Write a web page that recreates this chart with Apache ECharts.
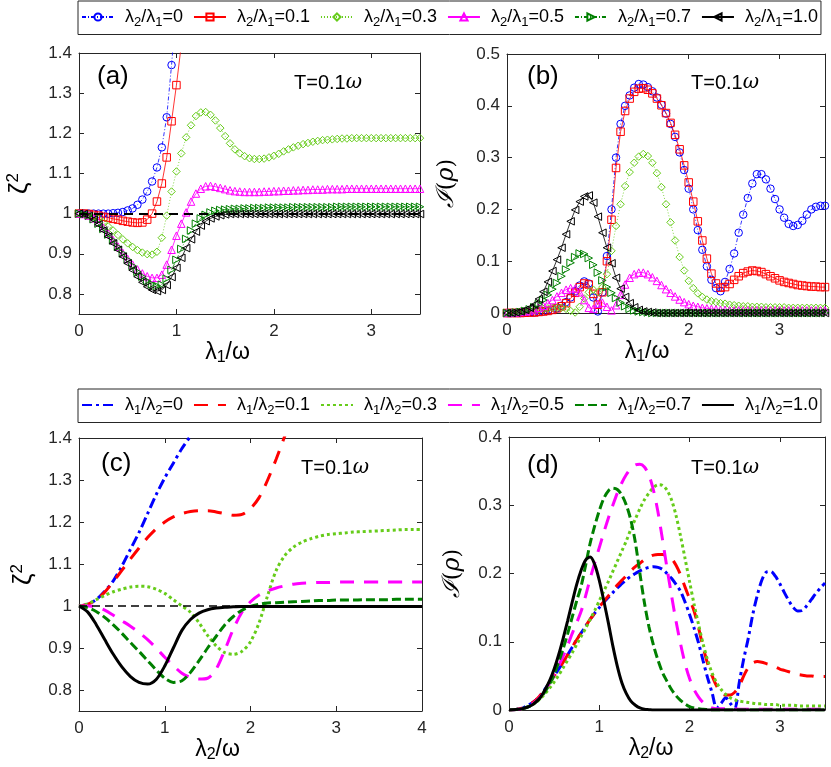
<!DOCTYPE html>
<html>
<head>
<meta charset="utf-8">
<script src="https://cdn.jsdelivr.net/npm/echarts@6/dist/echarts.min.js"></script>
<style>
body { margin: 0; background: #fff; }
#chart { width: 831px; height: 767px; }
</style>
</head>
<body>
<div id="chart"></div>
<script>
// x grids
var xs05 = [0,0.05,0.1,0.15,0.2,0.25,0.3,0.35,0.4,0.45,
	0.5,0.55,0.6,0.65,0.7,0.75,0.8,0.85,0.9,0.95,
	1,1.05,1.1,1.15,1.2,1.25,1.3,1.35,1.4,1.45,
	1.5,1.55,1.6,1.65,1.7,1.75,1.8,1.85,1.9,1.95,
	2,2.05,2.1,2.15,2.2,2.25,2.3,2.35,2.4,2.45,
	2.5,2.55,2.6,2.65,2.7,2.75,2.8,2.85,2.9,2.95,
	3,3.05,3.1,3.15,3.2,3.25,3.3,3.35,3.4,3.45,
	3.5];
var xs1 = [0,0.1,0.2,0.3,0.4,0.5,0.6,0.7,0.8,0.9,
	1,1.1,1.2,1.3,1.4,1.5,1.6,1.7,1.8,1.9,
	2,2.1,2.2,2.3,2.4,2.5,2.6,2.7,2.8,2.9,
	3,3.1,3.2,3.3,3.4,3.5,3.6,3.7,3.8,3.9,
	4];

// legend ratios
var ratios = ['0','0.1','0.3','0.5','0.7','1.0'];

// tick labels
var ticksX35 = [0,1,2,3];
var ticksX4 = [0,1,2,3,4];
var ticksZeta = [0.8,0.9,1,1.1,1.2,1.3,1.4];
var ticksB = [0,0.1,0.2,0.3,0.4,0.5];
var ticksD = [0,0.1,0.2,0.3,0.4];

// (a) zeta^2 vs lambda1
var aBlue = [1,1,1,1,1,1,1,1.001,1.002,1.004,
	1.008,1.013,1.022,1.035,1.055,1.08,1.115,1.165,1.24,1.37,
	1.52];
var aRed = [1,1,0.999,0.997,0.995,0.992,0.99,0.987,0.985,0.982,
	0.98,0.978,0.977,0.978,0.985,1,1.03,1.075,1.14,1.23,
	1.32,1.42];
var aGreen = [1,0.999,0.997,0.993,0.987,0.978,0.968,0.958,0.947,0.936,
	0.926,0.917,0.909,0.903,0.899,0.898,0.905,0.94,0.995,1.055,
	1.105,1.15,1.19,1.22,1.243,1.252,1.253,1.246,1.232,1.213,
	1.193,1.175,1.16,1.15,1.143,1.138,1.136,1.136,1.137,1.14,
	1.144,1.149,1.155,1.16,1.165,1.169,1.173,1.176,1.179,1.181,
	1.183,1.184,1.185,1.186,1.187,1.187,1.188,1.188,1.188,1.188,
	1.188,1.188,1.188,1.188,1.188,1.188,1.188,1.188,1.188,1.188,
	1.188];
var aMagenta = [1,0.999,0.995,0.988,0.978,0.965,0.95,0.934,0.918,0.902,
	0.887,0.873,0.861,0.851,0.844,0.84,0.84,0.848,0.873,0.91,
	0.945,0.975,1.003,1.03,1.05,1.062,1.068,1.069,1.067,1.064,
	1.061,1.058,1.056,1.055,1.054,1.054,1.054,1.054,1.055,1.055,
	1.056,1.056,1.057,1.057,1.058,1.058,1.059,1.059,1.06,1.06,
	1.06,1.061,1.061,1.061,1.061,1.062,1.062,1.062,1.062,1.062,
	1.062,1.062,1.062,1.062,1.062,1.062,1.062,1.062,1.062,1.062,
	1.062];
var aDkGreen = [1,0.999,0.995,0.986,0.975,0.962,0.948,0.933,0.917,0.901,
	0.885,0.87,0.855,0.843,0.832,0.824,0.82,0.823,0.838,0.86,
	0.885,0.912,0.937,0.958,0.975,0.988,0.997,1.003,1.007,1.009,
	1.01,1.011,1.012,1.012,1.013,1.013,1.014,1.014,1.014,1.015,
	1.015,1.015,1.015,1.015,1.016,1.016,1.016,1.016,1.016,1.016,
	1.016,1.016,1.016,1.017,1.017,1.017,1.017,1.017,1.017,1.017,
	1.017,1.017,1.017,1.017,1.017,1.017,1.017,1.017,1.017,1.017,
	1.017];
var aBlack = [1,0.999,0.994,0.985,0.973,0.958,0.943,0.926,0.91,0.893,
	0.876,0.859,0.843,0.829,0.818,0.81,0.807,0.81,0.822,0.842,
	0.865,0.89,0.914,0.936,0.955,0.97,0.981,0.988,0.993,0.996,
	0.998,0.999,0.999,0.999,0.999,0.999,0.999,0.999,0.999,0.999,
	0.999,0.999,0.999,0.999,0.999,0.999,0.999,0.999,0.999,0.999,
	0.999,0.999,0.999,0.999,0.999,0.999,0.999,0.999,0.999,0.999,
	0.999,0.999,0.999,0.999,0.999,0.999,0.999,0.999,0.999,0.999,
	0.999];

// (b) I(rho) vs lambda1
var bBlue = [0,0,0,0,0.0005,0.001,0.001,0.002,0.003,0.004,
	0.006,0.009,0.014,0.021,0.03,0.042,0.053,0.061,0.057,0.03,
	0.003,0.04,0.11,0.2,0.3,0.365,0.4,0.42,0.435,0.442,
	0.441,0.436,0.428,0.416,0.402,0.385,0.365,0.34,0.31,0.276,
	0.24,0.2,0.16,0.122,0.09,0.064,0.048,0.042,0.06,0.085,
	0.115,0.155,0.19,0.222,0.25,0.268,0.268,0.258,0.24,0.22,
	0.2,0.184,0.172,0.168,0.17,0.178,0.19,0.2,0.205,0.207,
	0.207];
var bRed = [0,0,0,0,0.0005,0.001,0.001,0.002,0.003,0.004,
	0.006,0.009,0.013,0.019,0.028,0.039,0.05,0.057,0.055,0.037,
	0.016,0.04,0.1,0.18,0.28,0.35,0.39,0.414,0.427,0.433,
	0.434,0.431,0.424,0.414,0.401,0.386,0.367,0.344,0.316,0.285,
	0.252,0.215,0.177,0.14,0.105,0.076,0.057,0.049,0.05,0.056,
	0.064,0.071,0.077,0.08,0.082,0.081,0.079,0.075,0.071,0.067,
	0.063,0.06,0.058,0.056,0.054,0.053,0.052,0.051,0.051,0.05,
	0.05];
var bGreen = [0,0.001,0.002,0.003,0.004,0.005,0.006,0.007,0.008,0.009,
	0.01,0.01,0.01,0.008,0.004,0.001,0.012,0.028,0.04,0.045,
	0.04,0.05,0.075,0.12,0.168,0.21,0.245,0.272,0.29,0.302,
	0.307,0.303,0.29,0.27,0.243,0.21,0.175,0.14,0.108,0.082,
	0.062,0.048,0.038,0.031,0.026,0.023,0.021,0.019,0.018,0.016,
	0.015,0.014,0.013,0.013,0.012,0.012,0.012,0.011,0.011,0.011,
	0.011,0.011,0.01,0.01,0.01,0.01,0.01,0.01,0.01,0.01,
	0.01];
var bMagenta = [0,0.0005,0.001,0.002,0.003,0.005,0.007,0.01,0.014,0.019,
	0.025,0.032,0.039,0.045,0.048,0.047,0.04,0.025,0.01,0.008,
	0.018,0.02,0.012,0.005,0.015,0.035,0.055,0.068,0.075,0.078,
	0.078,0.075,0.069,0.062,0.054,0.046,0.039,0.032,0.026,0.021,
	0.017,0.014,0.012,0.01,0.009,0.008,0.007,0.006,0.006,0.005,
	0.005,0.005,0.005,0.005,0.005,0.005,0.005,0.005,0.005,0.005,
	0.005,0.005,0.005,0.005,0.005,0.005,0.005,0.005,0.005,0.005,
	0.005];
var bDkGreen = [0,0,0.001,0.002,0.004,0.007,0.011,0.017,0.025,0.035,
	0.046,0.058,0.071,0.084,0.097,0.108,0.115,0.114,0.106,0.093,
	0.078,0.063,0.05,0.039,0.029,0.02,0.013,0.008,0.005,0.003,
	0.002,0.001,0,0,0,0,0,0,0,0,
	0,0,0,0,0,0,0,0,0,0,
	0,0,0,0,0,0,0,0,0,0,
	0,0,0,0,0,0,0,0,0,0,
	0];
var bBlack = [0,0,0.001,0.003,0.006,0.01,0.016,0.027,0.041,0.06,
	0.081,0.103,0.126,0.152,0.177,0.199,0.215,0.225,0.227,0.213,
	0.186,0.155,0.126,0.096,0.068,0.047,0.031,0.019,0.011,0.006,
	0.003,0.002,0.001,0,0,0,0,0,0,0,
	0,0,0,0,0,0,0,0,0,0,
	0,0,0,0,0,0,0,0,0,0,
	0,0,0,0,0,0,0,0,0,0,
	0];

// (c) zeta^2 vs lambda2
var cBlue = [1,1.004,1.015,1.035,1.06,1.095,1.135,1.175,1.22,1.265,
	1.305,1.34,1.375,1.405,1.44];
var cRed = [1,1.004,1.015,1.033,1.058,1.085,1.112,1.138,1.163,1.184,
	1.2,1.212,1.22,1.225,1.227,1.227,1.224,1.22,1.216,1.218,
	1.232,1.258,1.3,1.35,1.405,1.46];
var cGreen = [1,1.005,1.015,1.025,1.034,1.04,1.045,1.047,1.046,1.04,
	1.03,1.015,1,0.985,0.96,0.93,0.905,0.889,0.885,0.892,
	0.915,0.96,1.025,1.085,1.12,1.14,1.152,1.16,1.166,1.17,
	1.172,1.174,1.176,1.177,1.178,1.179,1.18,1.181,1.182,1.182,
	1.182];
var cMagenta = [1,1,0.998,0.99,0.978,0.965,0.952,0.937,0.92,0.9,
	0.878,0.858,0.84,0.83,0.826,0.828,0.85,0.895,0.945,0.985,
	1.01,1.026,1.036,1.043,1.048,1.052,1.054,1.055,1.056,1.056,
	1.057,1.057,1.057,1.057,1.057,1.057,1.057,1.057,1.057,1.057,
	1.057];
var cDkGreen = [1,0.996,0.987,0.973,0.955,0.935,0.913,0.892,0.87,0.848,
	0.828,0.818,0.822,0.842,0.87,0.9,0.928,0.955,0.975,0.99,
	0.999,1.004,1.007,1.008,1.009,1.01,1.011,1.012,1.013,1.013,
	1.014,1.014,1.014,1.015,1.015,1.015,1.015,1.016,1.016,1.016,
	1.016];
var cBlack = [1,0.986,0.956,0.92,0.885,0.855,0.832,0.818,0.814,0.825,
	0.857,0.9,0.942,0.968,0.983,0.991,0.995,0.997,0.998,0.999,
	0.999,0.999,0.999,0.999,0.999,0.999,0.999,0.999,0.999,0.999,
	0.999,0.999,0.999,0.999,0.999,0.999,0.999,0.999,0.999,0.999,
	0.999];

// (d) I(rho) vs lambda2
var dBlue = [0,0.0003,0.001,0.003,0.006,0.01,0.015,0.022,0.031,0.04,
	0.05,0.06,0.07,0.081,0.092,0.103,0.113,0.123,0.133,0.142,
	0.15,0.158,0.165,0.172,0.179,0.185,0.191,0.196,0.2,0.204,
	0.207,0.209,0.21,0.209,0.206,0.2,0.193,0.184,0.174,0.158,
	0.14,0.12,0.098,0.072,0.047,0.025,0.003,0.01,0.018,0.01,
	0.002,0.04,0.075,0.105,0.14,0.168,0.19,0.202,0.203,0.196,
	0.185,0.172,0.16,0.15,0.145,0.146,0.153,0.162,0.171,0.179,
	0.186];
var dRed = [0,0.0003,0.001,0.003,0.006,0.01,0.015,0.022,0.031,0.04,
	0.05,0.06,0.07,0.081,0.092,0.103,0.113,0.123,0.133,0.142,
	0.151,0.159,0.167,0.175,0.183,0.19,0.197,0.204,0.21,0.215,
	0.22,0.224,0.227,0.228,0.228,0.226,0.222,0.212,0.198,0.18,
	0.163,0.145,0.12,0.092,0.068,0.05,0.035,0.025,0.022,0.022,
	0.026,0.035,0.05,0.062,0.069,0.071,0.07,0.068,0.066,0.063,
	0.06,0.058,0.056,0.054,0.052,0.051,0.05,0.05,0.049,0.049,
	0.049];
var dGreen = [0,0.0003,0.001,0.002,0.004,0.007,0.011,0.017,0.024,0.032,
	0.041,0.051,0.062,0.073,0.084,0.096,0.108,0.12,0.133,0.146,
	0.16,0.174,0.188,0.203,0.218,0.233,0.248,0.265,0.28,0.295,
	0.308,0.318,0.326,0.33,0.329,0.322,0.308,0.285,0.255,0.222,
	0.188,0.155,0.125,0.097,0.073,0.054,0.04,0.03,0.023,0.018,
	0.015,0.013,0.012,0.011,0.01,0.009,0.009,0.008,0.008,0.008,
	0.007,0.007,0.007,0.007,0.006,0.006,0.006,0.006,0.006,0.006,
	0.006];
var dMagenta = [0,0.0003,0.001,0.002,0.004,0.008,0.013,0.02,0.029,0.04,
	0.052,0.065,0.079,0.095,0.112,0.128,0.145,0.168,0.193,0.216,
	0.238,0.26,0.281,0.3,0.318,0.333,0.345,0.354,0.359,0.36,
	0.356,0.344,0.322,0.29,0.25,0.208,0.168,0.13,0.097,0.068,
	0.046,0.03,0.019,0.011,0.006,0.003,0.002,0.002,0.002,0.002,
	0.002,0.001,0.001,0.001,0.001,0.001,0.001,0.001,0.001,0.001,
	0.001,0.001,0.001,0.001,0.001,0.001,0.001,0.001,0.001,0.001,
	0.001];
var dDkGreen = [0,0.0003,0.001,0.002,0.004,0.007,0.012,0.018,0.027,0.038,
	0.052,0.07,0.09,0.112,0.136,0.16,0.182,0.213,0.245,0.27,
	0.292,0.31,0.321,0.325,0.323,0.315,0.3,0.278,0.245,0.2,
	0.157,0.122,0.095,0.073,0.055,0.042,0.03,0.021,0.014,0.009,
	0.005,0.003,0.002,0.001,0.0005,0,0,0,0,0,
	0,0,0,0,0,0,0,0,0,0,
	0,0,0,0,0,0,0,0,0,0,
	0];
var dBlack = [0,0.0003,0.001,0.002,0.004,0.007,0.012,0.019,0.03,0.043,
	0.06,0.081,0.105,0.131,0.158,0.184,0.205,0.22,0.224,0.213,
	0.19,0.16,0.128,0.094,0.064,0.04,0.024,0.013,0.007,0.003,
	0.001,0.0005,0,0,0,0,0,0,0,0,
	0,0,0,0,0,0,0,0,0,0,
	0,0,0,0,0,0,0,0,0,0,
	0,0,0,0,0,0,0,0,0,0,
	0];

var font = 'Liberation Sans';
var ink = '#262626';
var colors = ['#0000ff', '#ff0000', '#66cc1a', '#ff00ff', '#008000', '#000000'];
var symbols = ['circle', 'rect', 'diamond', 'triangle', 'triangle', 'triangle'];
var rotates = [0, 0, 0, 0, -90, 90];
var thinDash = [[4, 2, 1, 2], 'solid', [1, 2], 'solid', [4, 2, 1, 2], 'solid'];
var thickDash = [[10, 4, 3, 4], [14, 10], [3, 3], [14, 10], [9, 4], 'solid'];

var nameRich = {
	l : { fontSize : 23, fontFamily : font, color : '#000', lineHeight : 26 },
	s : { fontSize : 16, fontFamily : font, color : '#000', lineHeight : 16, verticalAlign : 'bottom' },
	z : { fontSize : 26, fontFamily : font, color : '#000', lineHeight : 30 },
	p : { fontSize : 17, fontFamily : font, color : '#000', lineHeight : 17, verticalAlign : 'top' },
	i : { fontSize : 24, fontFamily : 'DejaVu Serif', fontStyle : 'italic', color : '#000', lineHeight : 28 },
	r : { fontSize : 22, fontFamily : 'DejaVu Serif', color : '#000', lineHeight : 28 }
};

function xPair(g, max, ticks, name, gap, pad) {
	return [ {
		type : 'value', gridIndex : g, min : 0, max : max, position : 'bottom',
		axisLine : { show : true, onZero : false, lineStyle : { color : ink, width : 1 } },
		axisTick : { show : true, inside : true, length : 5, customValues : ticks, lineStyle : { color : ink } },
		axisLabel : { customValues : ticks, margin : 9, color : ink, fontSize : 17, fontFamily : font },
		splitLine : { show : false },
		name : '{l|λ}{s|' + name + '}{l|/ω}', nameLocation : 'middle', nameGap : gap,
		nameTextStyle : { padding : pad, rich : nameRich }
	}, {
		type : 'value', gridIndex : g, min : 0, max : max, position : 'top',
		axisLine : { show : true, onZero : false, lineStyle : { color : ink, width : 1 } },
		axisTick : { show : true, inside : true, length : 5, customValues : ticks, lineStyle : { color : ink } },
		axisLabel : { show : false },
		splitLine : { show : false }
	} ];
}

function yPair(g, min, max, ticks, name, gap) {
	return [ {
		type : 'value', gridIndex : g, min : min, max : max, position : 'left',
		axisLine : { show : true, onZero : false, lineStyle : { color : ink, width : 1 } },
		axisTick : { show : true, inside : true, length : 5, customValues : ticks, lineStyle : { color : ink } },
		axisLabel : { customValues : ticks, margin : 7, color : ink, fontSize : 17, fontFamily : font },
		splitLine : { show : false },
		name : name, nameLocation : 'middle', nameGap : gap, nameRotate : 90,
		nameTextStyle : { rich : nameRich }
	}, {
		type : 'value', gridIndex : g, min : min, max : max, position : 'right',
		axisLine : { show : true, onZero : false, lineStyle : { color : ink, width : 1 } },
		axisTick : { show : true, inside : true, length : 5, customValues : ticks, lineStyle : { color : ink } },
		axisLabel : { show : false },
		splitLine : { show : false }
	} ];
}

function pairs(xs, ys) {
	return ys.map(function(y, i) {
		return [ xs[i], y ];
	});
}

var refLine = {
	silent : true, symbol : [ 'none', 'none' ], label : { show : false },
	lineStyle : { color : '#000', type : [ 9, 6 ], width : 2 },
	data : [ { yAxis : 1 } ]
};

function markerSeries(k, g, ys) {
	var s = {
		name : 'λ2/λ1=' + ratios[k], type : 'line', xAxisIndex : 2 * g, yAxisIndex : 2 * g,
		data : pairs(xs05, ys), symbol : symbols[k], symbolSize : 7.5, symbolRotate : rotates[k],
		showSymbol : true,
		itemStyle : { color : 'rgba(255,255,255,0)', borderColor : colors[k], borderWidth : 1 },
		lineStyle : { color : colors[k], width : 0.8, type : thinDash[k] },
		emphasis : { disabled : true }, animation : false
	};
	if (g == 0 && k == 5) s.markLine = refLine;
	return s;
}

function lineSeries(k, g, xs, ys) {
	var s = {
		name : 'λ1/λ2=' + ratios[k], type : 'line', xAxisIndex : 2 * g, yAxisIndex : 2 * g,
		data : pairs(xs, ys), showSymbol : false, symbol : 'none', smooth : 0.3,
		itemStyle : { color : colors[k] },
		lineStyle : { color : colors[k], width : 3, type : thickDash[k] },
		emphasis : { disabled : true }, animation : false
	};
	if (g == 2 && k == 5) {
		s.markLine = JSON.parse(JSON.stringify(refLine));
		s.markLine.lineStyle.width = 1.5;
		s.markLine.lineStyle.type = [ 8, 5 ];
	}
	return s;
}

var aData = [ aBlue, aRed, aGreen, aMagenta, aDkGreen, aBlack ];
var bData = [ bBlue, bRed, bGreen, bMagenta, bDkGreen, bBlack ];
var cData = [ cBlue, cRed, cGreen, cMagenta, cDkGreen, cBlack ];
var dData = [ dBlue, dRed, dGreen, dMagenta, dDkGreen, dBlack ];

var series = [];
for (var k = 0; k < 6; k++) series.push(markerSeries(k, 0, aData[k]));
for (var k = 0; k < 6; k++) series.push(markerSeries(k, 1, bData[k]));
for (var k = 0; k < 6; k++) series.push(lineSeries(k, 2, xs1, cData[k]));
for (var k = 0; k < 6; k++) series.push(lineSeries(k, 3, xs05, dData[k]));

var legendRich = {
	g : { width : 6 },
	m : { fontSize : 18, fontFamily : font, color : '#000', lineHeight : 23 },
	s : { fontSize : 13, fontFamily : font, color : '#000', lineHeight : 13, verticalAlign : 'bottom' }
};
function legendFmt(name) {
	return '{g|}{m|λ}{s|' + name.charAt(1) + '}{m|/λ}{s|' + name.charAt(4) + '}{m|='
			+ name.split('=')[1] + '}';
}
function legendFor(prefix, top, hideSymbol) {
	var lg = {
		left : 78, top : top, padding : [ 7, 3, 6, 3 ], itemGap : 10, itemWidth : 32, itemHeight : 9,
		borderColor : ink, borderWidth : 1, selectedMode : false,
		data : ratios.map(function(r) { return prefix + r; }),
		formatter : legendFmt, textStyle : { rich : legendRich }
	};
	if (hideSymbol) lg.itemStyle = { opacity : 0 };
	return lg;
}

var tRich = {
	t : { fontSize : 20, fontFamily : font, fill : '#000' },
	w : { fontSize : 20, fontFamily : 'DejaVu Serif', fontStyle : 'italic', fill : '#000' }
};
function panelText(label, lx, ly, tx, ty) {
	return [ {
		type : 'text', left : lx, top : ly,
		style : { text : label, font : '26px "Liberation Sans"', fill : '#000' }
	}, {
		type : 'text', left : tx, top : ty,
		style : { text : '{t|T=0.1}{w|ω}', rich : tRich }
	} ];
}

var option = {
	backgroundColor : '#fff',
	animation : false,
	legend : [ legendFor('λ2/λ1=', 1, false), legendFor('λ1/λ2=', 389, true) ],
	grid : [
		{ left : 79, top : 53, width : 341, height : 261 },
		{ left : 507, top : 54, width : 318, height : 259 },
		{ left : 79, top : 438, width : 343, height : 273 },
		{ left : 509, top : 437, width : 316, height : 273 } ],
	xAxis : [].concat(
		xPair(0, 3.5, ticksX35, '1', 15, [ 0, 44, 0, 0 ]),
		xPair(1, 3.5, ticksX35, '1', 14, [ 0, 38, 0, 0 ]),
		xPair(2, 4, ticksX4, '2', 19, [ 0, 66, 0, 0 ]),
		xPair(3, 3.5, ticksX35, '2', 21, [ 0, 32, 0, 0 ])),
	yAxis : [].concat(
		yPair(0, 0.75, 1.4, ticksZeta, '{z|ζ}{p|2}', 44),
		yPair(1, 0, 0.5, ticksB, '{i|ℐ}{r|(}{i|ρ}{r|)}', 46),
		yPair(2, 0.75, 1.4, ticksZeta, '{z|ζ}{p|2}', 40),
		yPair(3, 0, 0.4, ticksD, '{i|ℐ}{r|(}{i|ρ}{r|)}', 42)),
	graphic : [].concat(
		panelText('(a)', 97, 64, 294, 73),
		panelText('(b)', 527, 64, 691, 73),
		panelText('(c)', 101, 451, 301, 458),
		panelText('(d)', 527, 453, 691, 458)),
	series : series
};

var myChart = echarts.init(document.getElementById('chart'));
myChart.setOption(option);
</script>
</body>
</html>
